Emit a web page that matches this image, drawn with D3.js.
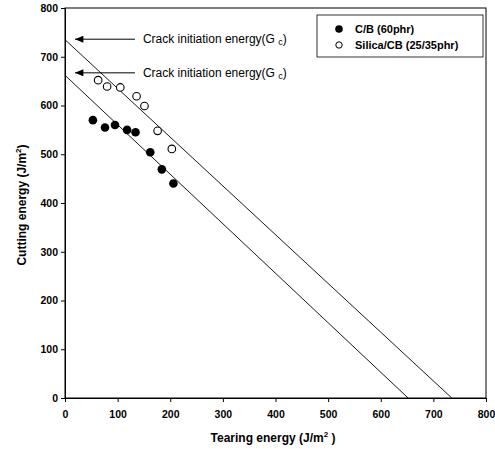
<!DOCTYPE html>
<html>
<head>
<meta charset="utf-8">
<script src="https://cdn.jsdelivr.net/npm/d3@7"></script>
<style>
  body { margin: 0; background: #fff; }
  svg { font-family: "Liberation Sans", Arial, sans-serif; }
</style>
</head>
<body>
<div class="chart"></div>
<script>
// data
var cbTear = [53, 76, 95, 118, 134, 162, 184, 206];
var cbCut = [570, 555, 560, 550, 545, 504, 469, 440];
var silTear = [63, 80, 105, 136, 151, 176, 203];
var silCut = [652, 639, 637, 619, 599, 548, 511];
// fitted lines: [x0,y0,x1,y1]
var cbLine = [0, 662, 652, 0];
var silLine = [0, 735, 735, 0];
var gcValues = [736, 667];
var xTicks = [0, 100, 200, 300, 400, 500, 600, 700, 800];
var yTicks = [0, 100, 200, 300, 400, 500, 600, 700, 800];

var svgWidth = 495, svgHeight = 449;
var margin = {top: 8, left: 65, right: 9, bottom: 51};
var width = svgWidth - margin.left - margin.right;
var height = svgHeight - margin.top - margin.bottom;

var svg = d3.select(".chart").append("svg")
  .attr("width", svgWidth)
  .attr("height", svgHeight);

var chartGroup = svg.append("g")
  .attr("transform", `translate(${margin.left},${margin.top})`);

var x = d3.scaleLinear().domain([0, 800]).range([0, width]);
var y = d3.scaleLinear().domain([0, 800]).range([height, 0]);

// frame
chartGroup.append("rect")
  .attr("width", width).attr("height", height)
  .attr("fill", "none").attr("stroke", "#000").attr("stroke-width", 1);

// axes
var xAxis = d3.axisBottom(x).tickValues(xTicks).tickSize(4);
var yAxis = d3.axisLeft(y).tickValues(yTicks).tickSize(4);
var gx = chartGroup.append("g").attr("transform", `translate(0,${height})`).call(xAxis);
var gy = chartGroup.append("g").call(yAxis);
[gx, gy].forEach(function(g){
  g.select(".domain").attr("stroke", "#000");
  g.selectAll(".tick line").attr("stroke", "#000");
  g.selectAll("text").attr("font-size", 10.5).attr("font-weight", "bold")
    .attr("font-family", "Liberation Sans, Arial, sans-serif").attr("fill", "#000");
});
gx.selectAll("text").attr("dy", "1.2em");

// lines
[cbLine, silLine].forEach(function(l){
  chartGroup.append("line")
    .attr("x1", x(l[0])).attr("y1", y(l[1]))
    .attr("x2", x(l[2])).attr("y2", y(l[3]))
    .attr("stroke", "#000").attr("stroke-width", 0.9);
});

// arrows + annotation
svg.append("defs").append("marker")
  .attr("id", "arr").attr("viewBox", "0 0 12 10")
  .attr("refX", 0).attr("refY", 5)
  .attr("markerWidth", 13).attr("markerHeight", 7)
  .attr("markerUnits", "userSpaceOnUse")
  .attr("orient", "auto")
  .append("path").attr("d", "M0,5 L12,0 L12,10 Z").attr("fill", "#000");

gcValues.forEach(function(v){
  chartGroup.append("line")
    .attr("x1", x(19)).attr("y1", y(v))
    .attr("x2", x(133)).attr("y2", y(v))
    .attr("stroke", "#000").attr("stroke-width", 1)
    .attr("marker-start", "url(#arr)");
  var t = chartGroup.append("text")
    .attr("x", x(148)).attr("y", y(v) + 4)
    .attr("font-size", 12).attr("fill", "#000")
    .text("Crack initiation energy(G ");
  t.append("tspan").attr("font-size", 9).attr("dy", 2).text("c");
  t.append("tspan").attr("dy", -2).text(")");
});

// points
var cbData = cbTear.map(function(d, i){ return {x: d, y: cbCut[i]}; });
var silData = silTear.map(function(d, i){ return {x: d, y: silCut[i]}; });

chartGroup.selectAll(".cb").data(cbData).enter().append("circle")
  .attr("class", "cb")
  .attr("cx", d => x(d.x)).attr("cy", d => y(d.y))
  .attr("r", 4.3).attr("fill", "#000");

chartGroup.selectAll(".sil").data(silData).enter().append("circle")
  .attr("class", "sil")
  .attr("cx", d => x(d.x)).attr("cy", d => y(d.y))
  .attr("r", 3.8).attr("fill", "#fff").attr("stroke", "#000").attr("stroke-width", 1.1);

// legend
var legend = svg.append("g").attr("transform", "translate(317,15)");
legend.append("rect").attr("width", 166).attr("height", 42)
  .attr("fill", "#fff").attr("stroke", "#000").attr("stroke-width", 0.8);
legend.append("circle").attr("cx", 22).attr("cy", 14).attr("r", 3.8).attr("fill", "#000");
legend.append("circle").attr("cx", 22).attr("cy", 30).attr("r", 3.2)
  .attr("fill", "#fff").attr("stroke", "#000").attr("stroke-width", 1);
legend.append("text").attr("x", 38).attr("y", 18).attr("font-size", 11)
  .attr("font-weight", "bold").text("C/B (60phr)");
legend.append("text").attr("x", 38).attr("y", 34).attr("font-size", 11)
  .attr("font-weight", "bold").text("Silica/CB (25/35phr)");

// axis titles
var xt = svg.append("text").attr("x", 273).attr("y", 442)
  .attr("text-anchor", "middle").attr("font-size", 12).attr("font-weight", "bold")
  .text("Tearing energy (J/m");
xt.append("tspan").attr("font-size", 8).attr("dy", -5).text("2");
xt.append("tspan").attr("dy", 5).text(" )");

var yt = svg.append("text")
  .attr("transform", "translate(26,205) rotate(-90)")
  .attr("text-anchor", "middle").attr("font-size", 12).attr("font-weight", "bold")
  .text("Cutting energy (J/m");
yt.append("tspan").attr("font-size", 8).attr("dy", -5).text("2");
yt.append("tspan").attr("dy", 5).text(")");
</script>
</body>
</html>
